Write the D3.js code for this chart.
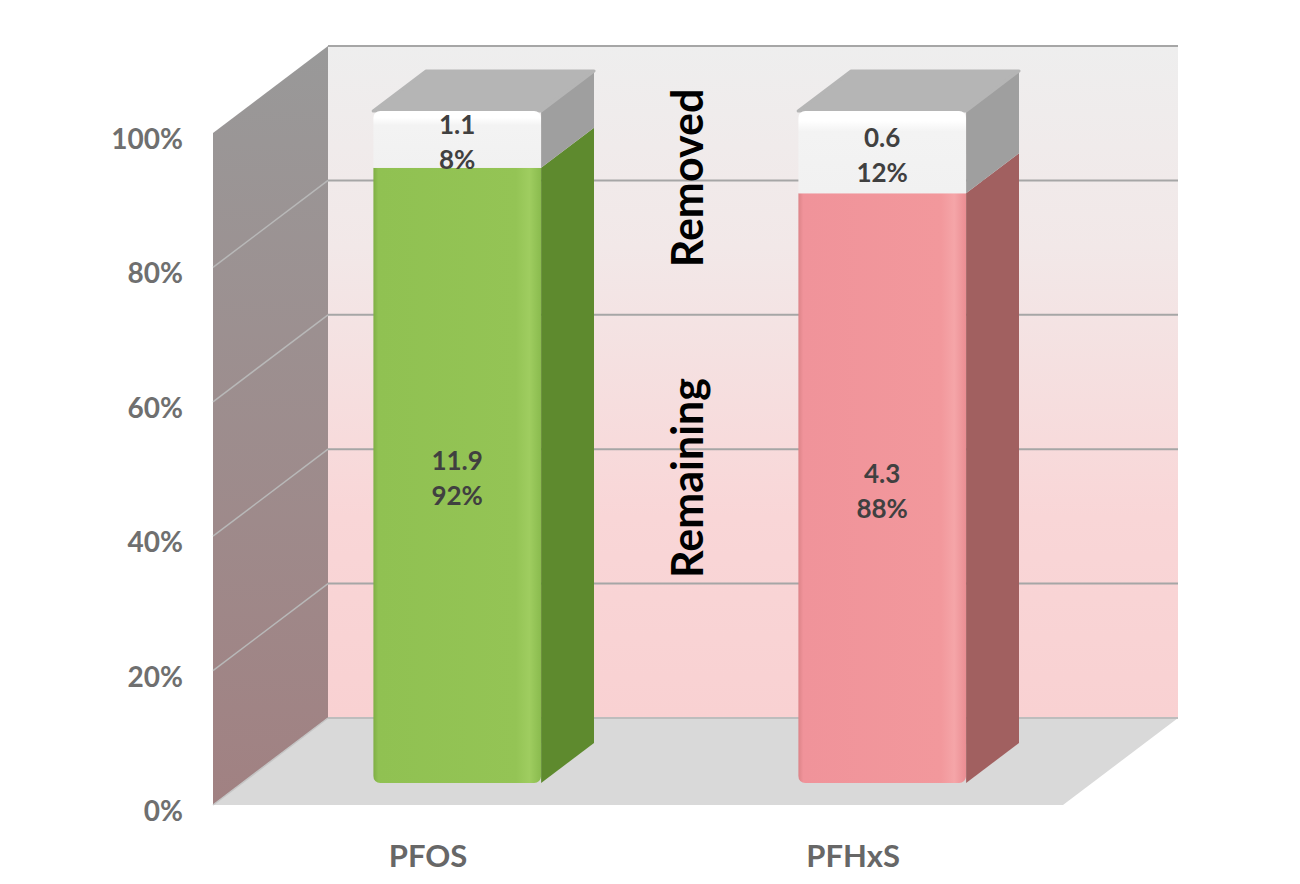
<!DOCTYPE html>
<html>
<head>
<meta charset="UTF-8">
<script src="https://d3js.org/d3.v7.min.js"></script>
<style>
    body {
        margin: 0;
        background-color: #ffffff;
    }

    text {
        font-family: Lato, 'Open Sans', sans-serif;
        font-weight: bold;
    }
</style>
</head>
<body>
<svg id="chart" width="1300" height="884"></svg>
<script>
    // data
    var categories = ["PFOS", "PFHxS"];
    var remaining = [11.9, 4.3];
    var removed = [1.1, 0.6];
    var seriesNames = ["Remaining", "Removed"];
    var yTicks = [0, 0.2, 0.4, 0.6, 0.8, 1];

    var frontColors = ["#92c353", "#f19599"];
    var sideColors = ["#5e8a2e", "#a16060"];

    var svg = d3.select("#chart");
    var defs = svg.append("defs");

    // back wall in screen coords, plus the depth vector towards the viewer
    var wallLeft = 328, wallRight = 1178;
    var DX = 115, DY = 87;
    var zFront = 0.747, zBack = 0.287;

    var y = d3.scaleLinear().domain([0, 1]).range([718, 46]);
    var yFront = d3.scaleLinear().domain([0, 1]).range([718 + DY, 46 + DY]);
    var x = d3.scaleBand().domain(categories)
        .range([wallLeft, wallRight])
        .paddingInner(0.605)
        .paddingOuter(0.3025)
        .align(0.51);

    function P(px, py, z) {
        return [px - z * DX, py + z * DY];
    }

    function poly(pts) {
        return "M" + pts.map(function (p) { return p[0] + "," + p[1]; }).join("L") + "Z";
    }

    function grad(id, x2, y2, stops) {
        var g = defs.append("linearGradient").attr("id", id)
            .attr("x1", 0).attr("y1", 0).attr("x2", x2).attr("y2", y2);
        stops.forEach(function (s) {
            g.append("stop").attr("offset", s[0]).attr("stop-color", s[1]);
        });
    }

    grad("backWall", 0, 1, [[0, "#eeeeee"], [0.3, "#f2e8e8"], [0.7, "#f9d6d7"], [1, "#f9d1d2"]]);
    grad("leftWall", 0, 1, [[0, "#999999"], [1, "#a18182"]]);
    grad("front0", 1, 0, [[0, "#7fae45"], [0.03, "#90c152"], [0.85, "#94c455"], [0.93, "#9fcd60"], [1, "#8abb4e"]]);
    grad("front1", 1, 0, [[0, "#dc8387"], [0.03, "#f0939a"], [0.85, "#f2989c"], [0.93, "#f5a5a8"], [1, "#ea8d92"]]);
    grad("frontTop", 0, 1, [[0, "#ffffff"], [0.12, "#ffffff"], [0.25, "#f3f3f3"], [1, "#f1f1f1"]]);

    // walls and floor
    svg.append("rect")
        .attr("x", wallLeft).attr("y", y(1))
        .attr("width", wallRight - wallLeft).attr("height", y(0) - y(1))
        .attr("fill", "url(#backWall)");

    svg.append("path")
        .attr("d", poly([P(wallLeft, y(1), 0), P(wallLeft, y(0), 0), P(wallLeft, y(0), 1), P(wallLeft, y(1), 1)]))
        .attr("fill", "url(#leftWall)");

    svg.append("path")
        .attr("d", poly([P(wallLeft, y(0), 0), P(wallRight, y(0), 0), P(wallRight, y(0), 1), P(wallLeft, y(0), 1)]))
        .attr("fill", "#d9d9d9");

    // gridlines on the back wall
    svg.selectAll(".grid")
        .data(yTicks.filter(function (d) { return d > 0; }))
        .enter().append("line")
        .attr("x1", wallLeft).attr("x2", wallRight)
        .attr("y1", function (d) { return y(d); })
        .attr("y2", function (d) { return y(d); })
        .attr("stroke", "#a6a6a6")
        .attr("stroke-width", 2);

    // gridlines on the side wall
    svg.selectAll(".sidegrid")
        .data(yTicks.filter(function (d) { return d > 0 && d < 1; }))
        .enter().append("line")
        .attr("x1", wallLeft).attr("y1", function (d) { return y(d); })
        .attr("x2", wallLeft - DX).attr("y2", function (d) { return y(d) + DY; })
        .attr("stroke", "#b8b8b8")
        .attr("stroke-width", 1.5);

    svg.append("line")
        .attr("x1", wallLeft).attr("x2", wallRight)
        .attr("y1", y(0)).attr("y2", y(0))
        .attr("stroke", "#bdbdbd").attr("stroke-width", 2);
    svg.append("line")
        .attr("x1", wallLeft).attr("y1", y(0))
        .attr("x2", wallLeft - DX).attr("y2", y(0) + DY)
        .attr("stroke", "#c4c4c4").attr("stroke-width", 1.5);

    // stacked 100% bars
    var fmtVal = d3.format(".1f");
    var fmtPct = d3.format(".0%");

    categories.forEach(function (cat, i) {
        var total = remaining[i] + removed[i];
        var segs = [
            { name: seriesNames[0], value: remaining[i], lo: 0, hi: remaining[i] / total },
            { name: seriesNames[1], value: removed[i], lo: remaining[i] / total, hi: 1 }
        ];
        var x0 = x(cat), x1 = x0 + x.bandwidth();
        var g = svg.append("g");

        // right side faces
        segs.forEach(function (s, k) {
            g.append("path")
                .attr("d", poly([P(x1, y(s.hi), zFront), P(x1, y(s.hi), zBack), P(x1, y(s.lo), zBack), P(x1, y(s.lo), zFront)]))
                .attr("fill", k == 0 ? sideColors[i] : "#9f9f9f");
        });

        // top face
        g.append("path")
            .attr("d", poly([P(x0, y(1), zFront), P(x1, y(1), zFront), P(x1, y(1), zBack), P(x0, y(1), zBack)]))
            .attr("fill", "#b5b5b5")
            .attr("stroke", "#b5b5b5")
            .attr("stroke-linejoin", "round")
            .attr("stroke-width", 3);

        // front faces, clipped to a rounded rectangle
        var tl = P(x0, y(1), zFront), br = P(x1, y(0), zFront);
        defs.append("clipPath").attr("id", "clip" + i)
            .append("rect")
            .attr("x", tl[0]).attr("y", tl[1])
            .attr("width", br[0] - tl[0]).attr("height", br[1] - tl[1])
            .attr("rx", 7);

        var front = g.append("g").attr("clip-path", "url(#clip" + i + ")");
        segs.forEach(function (s, k) {
            var a = P(x0, y(s.hi), zFront), b = P(x1, y(s.lo), zFront);
            front.append("rect")
                .attr("x", a[0]).attr("y", a[1])
                .attr("width", b[0] - a[0]).attr("height", b[1] - a[1])
                .attr("fill", k == 0 ? "url(#front" + i + ")" : "url(#frontTop)");
        });

        // value labels
        segs.forEach(function (s) {
            var c = P((x0 + x1) / 2, (y(s.hi) + y(s.lo)) / 2, zFront);
            var t = g.append("text")
                .attr("text-anchor", "middle")
                .attr("font-size", 26)
                .attr("fill", "#404040");
            t.append("tspan").attr("x", c[0]).attr("y", c[1] - 15)
                .attr("dominant-baseline", "central")
                .text(fmtVal(s.value));
            t.append("tspan").attr("x", c[0]).attr("y", c[1] + 20)
                .attr("dominant-baseline", "central")
                .text(fmtPct(s.value / total));
        });
    });

    // y axis on the front edge of the side wall
    var yAxis = svg.append("g")
        .attr("transform", "translate(" + (wallLeft - DX) + ",0)")
        .call(d3.axisLeft(yFront).tickValues(yTicks).tickFormat(d3.format(".0%")).tickSize(0).tickPadding(30));
    yAxis.select(".domain").remove();
    yAxis.selectAll("text")
        .attr("font-size", 28)
        .attr("font-family", "Lato, 'Open Sans', sans-serif")
        .attr("font-weight", "bold")
        .attr("fill", "#6f6f6f")
        .attr("dy", "0.55em");

    // category labels at the front of the floor
    svg.selectAll(".cat")
        .data(categories)
        .enter().append("text")
        .attr("x", function (d) { return x(d) + x.bandwidth() / 2 - DX; })
        .attr("y", y(0) + DY + 50)
        .attr("text-anchor", "middle")
        .attr("dominant-baseline", "central")
        .attr("font-size", 31)
        .attr("fill", "#676767")
        .text(function (d) { return d; });

    // series names, written sideways between the bars
    var seriesLabelPos = [[703, 478], [703, 178]];
    seriesNames.forEach(function (name, k) {
        svg.append("text")
            .attr("transform", "translate(" + seriesLabelPos[k][0] + "," + seriesLabelPos[k][1] + ") rotate(-90)")
            .attr("text-anchor", "middle")
            .attr("font-size", 43)
            .attr("fill", "#000000")
            .text(name);
    });
</script>
</body>
</html>
